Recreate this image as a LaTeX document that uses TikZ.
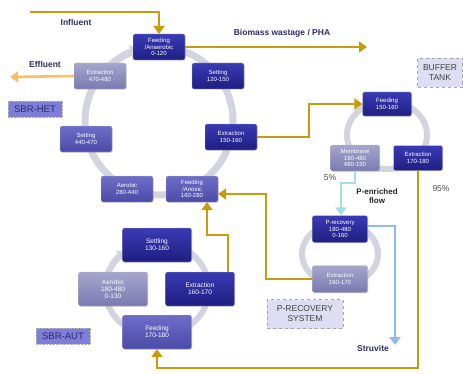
\documentclass[tikz,border=0pt]{standalone}
\usepackage{fontspec}
\setmainfont{Liberation Sans}
\usetikzlibrary{arrows.meta,shadows}

\definecolor{gold}{RGB}{200,155,10}
\definecolor{effl}{RGB}{250,192,95}
\definecolor{cyanflow}{RGB}{165,222,228}
\definecolor{struv}{RGB}{145,188,232}
\definecolor{ringgray}{RGB}{212,212,224}
\definecolor{navy}{RGB}{45,45,100}
\definecolor{darktop}{RGB}{58,58,180}
\definecolor{darkbot}{RGB}{30,30,130}
\definecolor{midtop}{RGB}{110,110,200}
\definecolor{midbot}{RGB}{75,75,168}
\definecolor{lighttop}{RGB}{165,165,205}
\definecolor{lightbot}{RGB}{122,122,178}
\definecolor{tagfill}{RGB}{125,125,218}
\definecolor{tankfill}{RGB}{222,222,242}

\begin{document}
\begin{tikzpicture}
[%%%%%%%%%%%%%%%%%%%%%%%%%%%%%%
x=1pt,y=1pt,
box/.style={rectangle,rounded corners=2pt,draw=black!25,very thin,text=white,align=center,
  font=\fontsize{6}{6.8}\selectfont,minimum width=52pt,minimum height=26pt,inner sep=1pt,
  drop shadow={opacity=0.25,shadow xshift=0.8pt,shadow yshift=-0.8pt}},
dark/.style={box,top color=darktop,bottom color=darkbot},
mid/.style={box,top color=midtop,bottom color=midbot},
light/.style={box,top color=lighttop,bottom color=lightbot},
big/.style={minimum width=69pt,minimum height=34pt,font=\fontsize{6.5}{7.3}\selectfont},
tag/.style={rectangle,draw=black!30,densely dotted,fill=tagfill,text=navy,
  font=\fontsize{9.5}{10}\selectfont,minimum width=54pt,minimum height=16pt,inner sep=1pt},
tank/.style={rectangle,draw=black!35,dashed,fill=tankfill,text=black!75,align=center,
  font=\fontsize{8.5}{10}\selectfont,minimum height=29pt,inner sep=2pt},
ring/.style={draw=ringgray,line width=7pt},
flow/.style={draw=gold,line width=2.6pt,-{Triangle[width=11pt,length=8pt]}},
lbl/.style={text=navy,font=\bfseries\fontsize{8.5}{9.5}\selectfont},
]%%%%%%%%%%%%%%%%%%%%%%%%%%%%%%

\useasboundingbox (0,0) rectangle (463,373);

% rings
\draw[ring] (159,252) circle[radius=74];
\draw[ring,-{Triangle[width=15pt,length=8pt]}] (159,252) ++(142:74) arc[start angle=142,end angle=106,radius=74];
\draw[ring,line width=6pt] (387,238) ellipse[x radius=40,y radius=34];
\draw[ring,line width=6pt] (340,119) ellipse[x radius=38,y radius=31];
\draw[ring,line width=6pt] (157,84) ellipse[x radius=52,y radius=47];
\draw[ring,line width=6pt,-{Triangle[width=13pt,length=7pt]}] (157,84) ++(165:52 and 47) arc[start angle=165,end angle=128,x radius=52,y radius=47];

% SBR-HET
\node[dark] (fa) at (159,326) {Feeding\\/Anaerobic\\0-120};
\node[dark] (s1) at (218,297) {Setting\\120-150};
\node[dark] (e1) at (231,236) {Extraction\\150-160};
\node[mid] (fx) at (192,184) {Feeding\\/Anoxic\\160-280};
\node[mid] (ae) at (127,184) {Aerobic\\280-440};
\node[mid] (s2) at (86,234) {Setting\\440-470};
\node[light] (e2) at (100,297) {Extraction\\470-480};
\node[tag] (het) at (35,264) {SBR-HET};

% buffer tank
\node[dark,minimum width=49pt,minimum height=24pt] (bf) at (387,269) {Feeding\\150-160};
\node[light,minimum width=49pt,minimum height=26pt] (mb) at (355,215) {Membrane\\160-480\\480-150};
\node[dark,minimum width=49pt,minimum height=25pt] (be) at (418,215) {Extraction\\170-180};
\node[tank,minimum width=45pt] (tk) at (440,300) {BUFFER\\TANK};

% P-recovery
\node[dark,minimum width=55pt,minimum height=27pt] (pr) at (340,144) {P-recovery\\180-480\\0-160};
\node[light,minimum width=55pt,minimum height=27pt] (pe) at (340,94) {Extraction\\160-170};
\node[tank,minimum width=76pt] (ps) at (305,59) {P-RECOVERY\\SYSTEM};

% SBR-AUT
\node[dark,big] (st) at (157,128) {Settling\\130-160};
\node[light,big] (aa) at (113,84) {Aerobic\\180-480\\0-130};
\node[dark,big] (ea) at (200,84) {Extraction\\160-170};
\node[mid,big] (fd) at (157,41) {Feeding\\170-180};
\node[tag] (aut) at (63,37) {SBR-AUT};

% flows
\coordinate (infl) at (30,361);
\coordinate (wast) at (367,326);
\coordinate (effo) at (10,296);
\coordinate (strv) at (395,28);

\draw[flow] (infl) -| (fa.north);
\node[lbl] (inl) at (76,351) {Influent};
\draw[flow] (fa.east) -- (wast);
\node[lbl] (wal) at (282,340) {Biomass wastage / PHA};
\draw[draw=effl,line width=2.6pt,-{Triangle[width=11pt,length=8pt]}] (e2.west) -- (effo);
\node[lbl] (efl) at (45,309) {Effluent};

\draw[flow] (e1.east) -- ([xshift=52pt]e1.east) |- (bf.west);
\draw[flow] (be.south) -- (be.south |- 0,5) -| (fd.south);
\draw[flow] (pe.west) -- (pe.west -| 266,0) |- ([yshift=-5pt]fx.east);
\draw[flow] ([xshift=28pt]ea.north) -- ++(0,37) -| ([xshift=15pt]fx.south);

\draw[draw=cyanflow,line width=2.6pt,-{Triangle[width=11pt,length=8pt]}] (mb.south) -- ++(0,-12) -| ([xshift=1pt]pr.north);
\draw[draw=struv,line width=2.6pt,-{Triangle[width=11pt,length=8pt]}] ([yshift=3pt]pr.east) -| (strv);
\node[lbl] (stl) at (373,25) {Struvite};

\node[text=black!70,font=\fontsize{8.5}{9}\selectfont] (p5) at (330,195) {5\%};
\node[text=black!70,font=\fontsize{8.5}{9}\selectfont] (p95) at (441,184) {95\%};
\node[font=\bfseries\fontsize{8}{9.5}\selectfont,align=center,text=black!85] (pen) at (377,177) {P-enriched\\flow};
\end{tikzpicture}
\end{document}
